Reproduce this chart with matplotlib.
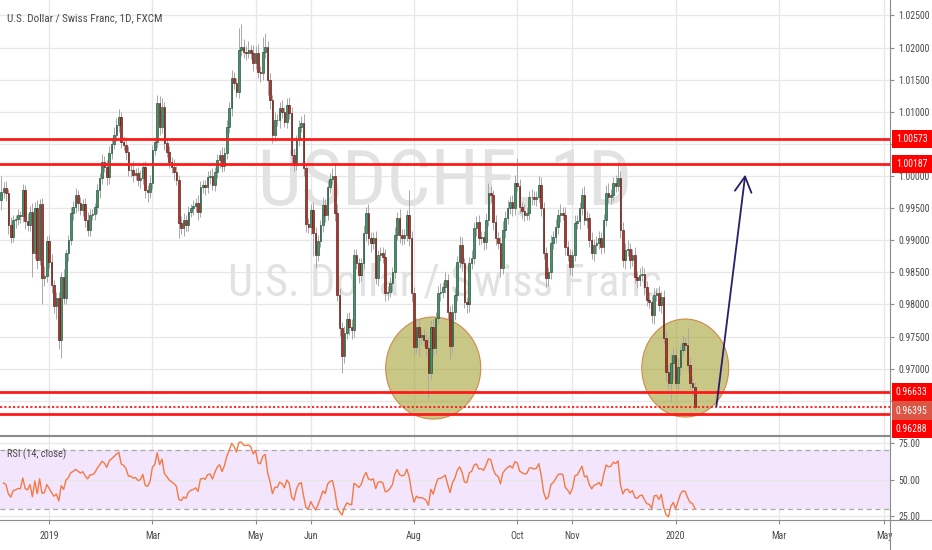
import numpy as np
import pandas as pd
import matplotlib
matplotlib.use("Agg")
import matplotlib.pyplot as plt
from matplotlib.patches import Ellipse
from matplotlib.lines import Line2D

FONT = ["Liberation Sans Narrow", "Roboto Condensed", "DejaVu Sans"]
plt.rcParams["font.family"] = FONT

# ---------------- data ----------------
title = "U.S. Dollar / Swiss Franc, 1D, FXCM"
wm_symbol = "USDCHF, 1D"
wm_name = "U.S. Dollar / Swiss Franc"
rsi_label = "RSI (14, close)"

start_date = "2018-12-04"
first_open = 0.9962

closes = [
    0.9975, 0.9982, 0.9973, 0.9924, 0.9905, 0.9931, 0.9933, 0.9939, 0.9937, 0.9978,
    0.9930, 0.9924, 0.9944, 0.9880, 0.9950, 0.9869, 0.9956, 0.9841, 0.9845, 0.9898,
    0.9866, 0.9830, 0.9797, 0.9810, 0.9745, 0.9843, 0.9810, 0.9880, 0.9900, 0.9942,
    0.9952, 0.9970, 0.9958, 0.9947, 0.9957, 0.9932, 0.9916, 0.9940, 0.9941, 0.9952,
    0.9978, 0.9997, 1.0022, 1.0014, 0.9998, 1.0036, 1.0050, 1.0064, 1.0080, 1.0092,
    1.0053, 1.0048, 1.0037, 1.0009, 1.0009, 1.0002, 1.0004, 0.9994,
    0.9997, 1.0014,
    0.9978, 0.9975, 0.9989, 1.0040, 1.0053, 1.0114, 1.0076, 1.0107, 1.0051, 1.0037,
    1.0022, 1.0014, 1.0006, 0.9994, 0.9927, 0.9919, 0.9931, 0.9924, 0.9944, 0.9950,
    0.9953, 0.9958, 0.9944, 0.9983, 0.9986, 0.9983, 0.9998, 1.0000, 0.9986, 1.0006,
    1.0025, 1.0033, 1.0016, 1.0036, 1.0076, 1.0106, 1.0153, 1.0145, 1.0131, 1.0196,
    1.0201, 1.0193, 1.0192, 1.0196, 1.0192, 1.0176, 1.0192, 1.0162, 1.0160, 1.0193,
    1.0201, 1.0150, 1.0118, 1.0064, 1.0087, 1.0087, 1.0106, 1.0100,
    1.0084, 1.0111, 1.0098, 1.0033, 1.0017, 1.0056, 1.0077, 1.0082, 1.0012, 0.9926,
    0.9921, 0.9947, 0.9911, 0.9877, 0.9898, 0.9924, 0.9955, 0.9939, 0.9983, 0.9996,
    1.0000, 0.9942, 0.9815, 0.9763, 0.9719, 0.9755, 0.9778, 0.9765, 0.9760, 0.9877,
    0.9864, 0.9846, 0.9864, 0.9911, 0.9942, 0.9903, 0.9895, 0.9903, 0.9841, 0.9877,
    0.9880, 0.9874, 0.9817, 0.9820, 0.9833, 0.9851, 0.9908, 0.9934, 0.9908, 0.9903,
    0.9908, 0.9939, 0.9903, 0.9817, 0.9734, 0.9765, 0.9750,
    0.9752, 0.9745, 0.9732, 0.9693, 0.9765, 0.9732, 0.9779, 0.9818, 0.9820, 0.9827,
    0.9838, 0.9788, 0.9735, 0.9788, 0.9815, 0.9866, 0.9893, 0.9864, 0.9804, 0.9800,
    0.9864, 0.9873, 0.9919, 0.9928, 0.9903, 0.9905, 0.9897, 0.9931, 0.9974, 0.9970,
    0.9928, 0.9903, 0.9895, 0.9857, 0.9916, 0.9935, 0.9950, 0.9960, 0.9950, 0.9989,
    0.9985, 0.9952, 0.9945, 0.9940, 0.9942, 0.9967, 0.9968, 0.9964, 0.9967, 0.9986,
    0.9950, 0.9880, 0.9841, 0.9850, 0.9896, 0.9905, 0.9921, 0.9939, 0.9942,
    0.9940, 0.9889, 0.9877, 0.9858, 0.9877, 0.9927, 0.9930, 0.9950, 0.9970, 0.9931,
    0.9935, 0.9900, 0.9880, 0.9893, 0.9896, 0.9903, 0.9890, 0.9931, 0.9974, 0.9968,
    0.9970, 0.9989, 0.9985, 0.9997, 0.9916, 0.9869, 0.9885, 0.9887, 0.9869, 0.9877,
    0.9843, 0.9838, 0.9846, 0.9848, 0.9827, 0.9807, 0.9804, 0.9783, 0.9815, 0.9817,
    0.9799, 0.9812, 0.9748, 0.9695, 0.9678, 0.9709, 0.9721, 0.9678, 0.9702, 0.9729,
    0.9740, 0.9737, 0.9706, 0.9678, 0.9671, 0.9640,
]

# wick lengths above / below the candle body, in units of 0.0001
upper_wick = [
    25, 8, 10, 6, 12, 8, 7, 9, 6, 10,   8, 12, 9, 14, 10, 12, 8, 10, 15, 9,
    10, 12, 8, 10, 9, 7, 12, 6, 8, 10,  9, 12, 8, 10, 7, 9, 12, 8, 7, 6,
    10, 8, 12, 9, 11, 10, 8, 12, 10, 13, 8, 9, 12, 10, 8, 14, 9, 10, 12, 8,
    10, 8, 12, 9, 7, 12, 10, 15, 9, 8,  10, 7, 12, 9, 8, 10, 12, 8, 9, 7,
    10, 8, 12, 9, 8, 7, 10, 9, 12, 8,   10, 8, 12, 9, 11, 10, 12, 9, 8, 35,
    36, 12, 10, 14, 8, 12, 10, 13, 9, 24, 22, 9, 10, 8, 12, 9, 10, 12, 8, 10,
    12, 9, 10, 8, 10, 12, 14, 9, 8, 10, 12, 9, 10, 8, 12, 9, 10, 8, 12, 18,
    14, 10, 9, 12, 8, 10, 12, 9, 10, 8, 9, 12, 10, 14, 9, 10, 12, 8, 9, 10,
    12, 9, 10, 8, 12, 10, 14, 9, 10, 8, 39, 12, 10, 14, 12, 9, 10, 12, 15, 10,
    12, 9, 10, 14, 8, 12, 10, 9, 12, 10, 10, 14, 12, 9, 8, 10, 12, 9, 10, 12,
    9, 10, 12, 15, 10, 8, 12, 9, 10, 14, 10, 12, 9, 10, 12, 39, 10, 8, 12, 9,
    10, 12, 9, 10, 14, 12, 9, 10, 8, 12, 10, 12, 9, 14, 10, 12, 9, 10, 8, 12,
    10, 9, 12, 14, 10, 8, 12, 9, 10, 12, 9, 10, 12, 15, 10, 9, 12, 25, 10, 12,
    10, 14, 9, 10, 12, 9, 10, 12, 8, 10, 12, 9, 10, 8, 12, 9, 10, 12, 10, 14,
    12, 10, 14, 10, 12, 10, 26, 12, 10, 8,
]
lower_wick = [
    15, 10, 12, 14, 10, 8, 12, 9, 10, 8, 12, 10, 9, 37, 10, 14, 8, 40, 12, 10,
    9, 12, 10, 20, 14, 28, 10, 9, 12, 8, 10, 9, 12, 8, 10, 12, 9, 10, 8, 10,
    9, 12, 10, 8, 12, 10, 9, 8, 10, 12, 10, 8, 12, 9, 10, 12, 8, 10, 12, 9,
    12, 15, 10, 9, 8, 10, 12, 9, 10, 8, 9, 10, 12, 8, 23, 10, 12, 9, 10, 8,
    10, 9, 12, 8, 10, 12, 9, 10, 8, 10, 9, 12, 10, 8, 10, 9, 12, 10, 8, 10,
    9, 10, 12, 8, 10, 12, 9, 10, 14, 10, 9, 24, 14, 12, 10, 9, 12, 10, 8, 10,
    9, 12, 10, 8, 10, 9, 12, 14, 10, 12, 35, 20, 10, 9, 12, 10, 8, 10, 9, 12,
    10, 12, 26, 10, 9, 12, 14, 10, 9, 12, 10, 9, 12, 10, 14, 9, 10, 12, 9, 10,
    12, 10, 9, 12, 10, 8, 12, 10, 9, 10, 12, 14, 12, 10, 30, 12, 10, 12, 39, 10,
    12, 10, 9, 12, 10, 9, 12, 22, 10, 12, 10, 9, 12, 10, 14, 12, 9, 10, 12, 10,
    9, 12, 10, 9, 10, 12, 10, 9, 14, 10, 12, 10, 9, 12, 10, 9, 10, 12, 10, 9,
    10, 12, 9, 10, 8, 12, 10, 14, 12, 10, 9, 10, 12, 10, 9, 12, 10, 12, 14, 10,
    9, 12, 10, 8, 12, 10, 9, 12, 14, 10, 12, 10, 9, 10, 12, 9, 10, 8, 12, 10,
    14, 10, 12, 9, 10, 12, 10, 9, 12, 10, 10, 12, 14, 10, 9, 12, 10, 14, 12, 30,
    25, 10, 11, 12, 10, 9, 12, 10, 14, 3,
]

level_prices = [1.00573, 1.00187, 0.96633, 0.96395, 0.96288]

month_tick_dates = ["2019-01-01", "2019-03-01", "2019-05-01", "2019-06-03", "2019-08-01",
                    "2019-10-01", "2019-11-01", "2020-01-01", "2020-03-02", "2020-05-01"]
month_tick_labels = ["2019", "Mar", "May", "Jun", "Aug", "Oct", "Nov", "2020", "Mar", "May"]

price_ticks = [0.965, 0.970, 0.975, 0.980, 0.985, 0.990, 0.995, 1.000,
               1.005, 1.010, 1.015, 1.020, 1.025]
hidden_price_labels = [0.965, 1.005]   # covered by the level boxes in the reference
rsi_ticks = [25, 50, 75]

# drawings (date, price anchors)
ellipses = [("2019-08-13", 0.97009, 39.6, 0.01589),
            ("2020-01-07", 0.97009, 36.2, 0.01526)]
arrow_from = ("2020-01-24", 0.9642)
arrow_to = ("2020-02-11", 1.0002)

# ---------------- derived ----------------
n = len(closes)
dates = pd.bdate_range(start_date, "2020-07-31")
x = np.arange(n)
c = np.array(closes)
o = np.concatenate([[first_open], c[:-1]])
top = np.maximum(o, c)
bot = np.minimum(o, c)
hi = top + np.array(upper_wick) * 1e-4
lo = bot - np.array(lower_wick) * 1e-4
up = c >= o

def didx(d):
    return int(dates.get_indexer([pd.Timestamp(d)])[0])

# RSI(14), Wilder smoothing
d = np.diff(c)
g = np.clip(d, 0, None)
l = np.clip(-d, 0, None)
ag, al = g[:14].mean(), l[:14].mean()
rsi = [np.nan]
for gi, li in zip(g, l):
    ag = (ag * 13 + gi) / 14
    al = (al * 13 + li) / 14
    rsi.append(100 - 100 / (1 + ag / al))
rsi = np.array(rsi)

# ---------------- figure ----------------
W, H = 932, 550
fig = plt.figure(figsize=(W / 100, H / 100), dpi=100, facecolor="white")
axr = 890 / W
ax = fig.add_axes([0, (H - 435) / H, axr, 435 / H])
ax2 = fig.add_axes([0, 30 / H, axr, 84 / H], sharex=ax)

XL = (-0.5, 370.3)
ax.set_xlim(*XL)
ax.set_ylim(0.95966, 1.02741)
ax2.set_ylim(22.26, 79.8)

grid_c = "#E7E7E7"
axis_c = "#8C8C8C"
text_c = "#4A4A4A"

tick_pos = [didx(t) for t in month_tick_dates]

for a in (ax, ax2):
    a.set_facecolor("white")
    for s in ("top", "left"):
        a.spines[s].set_visible(False)
    a.spines["right"].set_color(axis_c)
    a.spines["bottom"].set_color(axis_c)
    a.yaxis.tick_right()
    a.tick_params(axis="y", which="both", length=3, color=axis_c, labelsize=7,
                  labelcolor=text_c, pad=3, direction="out")
    for tp in tick_pos:
        a.axvline(tp, color=grid_c, lw=0.9, zorder=0)

ax2.spines["top"].set_visible(True)
ax2.spines["top"].set_color(axis_c)

# price grid & ticks
ax.set_yticks(price_ticks)
ax.set_yticklabels(["" if v in hidden_price_labels else f"{v:.5f}" for v in price_ticks])
for v in price_ticks:
    ax.axhline(v, color=grid_c, lw=0.9, zorder=0)
ax.tick_params(axis="x", which="both", bottom=False, labelbottom=False)

# watermark
ax.text(0.5, 1 - 205 / 435, wm_symbol, transform=ax.transAxes, ha="center", va="baseline",
        fontsize=56, color="#E2E2E2", zorder=0.5)
ax.text(0.5, 1 - 295 / 435, wm_name, transform=ax.transAxes, ha="center", va="baseline",
        fontsize=32, color="#E2E2E2", zorder=0.5)

# ellipses (below candles)
for dte, py, wbars, hp in ellipses:
    e = Ellipse((didx(dte), py), wbars, hp, facecolor="#A9A53C", alpha=0.62,
                edgecolor="none", zorder=1)
    ax.add_patch(e)
    e2 = Ellipse((didx(dte), py), wbars, hp, facecolor="none",
                 edgecolor="#D08A4A", lw=0.8, zorder=1.1)
    ax.add_patch(e2)

# candles
ax.vlines(x, lo, hi, color="#A8A8A8", lw=0.7, zorder=2)
body_h = np.maximum(top - bot, 0.00008)
ax.bar(x[up], body_h[up], bottom=bot[up], width=0.66, color="#44916A",
       edgecolor="#1F4D33", linewidth=0.45, zorder=3)
ax.bar(x[~up], body_h[~up], bottom=bot[~up], width=0.66, color="#B3342B",
       edgecolor="#561811", linewidth=0.45, zorder=3)

# horizontal levels
level_style = ["-", "-", "-", (0, (1.2, 1.2)), "-"]
level_lw = [2.0, 2.0, 2.0, 1.3, 2.0]
level_box = ["#FF0000", "#FF0000", "#FF0000", "#DC5646", "#FF0000"]
level_off = [0, 0, 0, -2.2, -10.8]
for v, ls, lw, bc, off in zip(level_prices, level_style, level_lw, level_box, level_off):
    ax.axhline(v, color="#FF1A1A", ls=ls, lw=lw, zorder=4)
    ax.annotate(f"{v:.5f}", xy=(1, v), xycoords=("axes fraction", "data"),
                xytext=(4.3, off), textcoords="offset points", ha="left", va="center",
                color="white", fontsize=7, annotation_clip=False, zorder=20,
                bbox=dict(boxstyle="square,pad=0.42", fc=bc, ec="none"))

# arrow
ax.annotate("", xy=(didx(arrow_to[0]), arrow_to[1]),
            xytext=(didx(arrow_from[0]), arrow_from[1]),
            arrowprops=dict(arrowstyle="->,head_length=0.55,head_width=0.3",
                            color="#2B1B6B", lw=1.3, mutation_scale=20,
                            shrinkA=0, shrinkB=0), zorder=6)

# title
ax.text(7 / 890, 1 - 18 / 435, title, transform=ax.transAxes, ha="left", va="center",
        fontsize=8, color=text_c, zorder=10)

# RSI pane
ax2.axhspan(30, 70, color="#F2E5FC", zorder=0.2, lw=0)
for v in rsi_ticks:
    ax2.axhline(v, color=grid_c, lw=0.9, zorder=0.3)
for v in (30, 70):
    ax2.axhline(v, color="#A8A8A8", lw=0.9, ls=(0, (4, 3)), zorder=0.4)
ax2.plot(x, rsi, color="#F47A45", lw=1.0, zorder=3)
ax2.set_yticks(rsi_ticks)
ax2.set_yticklabels([f"{v:.2f}" for v in rsi_ticks])
ax2.text(7 / 890, 1 - 18 / 84, rsi_label, transform=ax2.transAxes, ha="left",
         va="center", fontsize=7.5, color=text_c, zorder=10)

ax2.set_xticks(tick_pos)
ax2.set_xticklabels(month_tick_labels)
ax2.tick_params(axis="x", length=3, color=axis_c, labelsize=7.2, labelcolor=text_c, pad=5)
ax2.set_xlim(*XL)

# extended axis frame lines
fig.add_artist(Line2D([axr, axr], [0, 30 / H], color=axis_c, lw=0.8))
fig.add_artist(Line2D([axr, 1], [30 / H, 30 / H], color=axis_c, lw=0.8))

fig.savefig("out.png", dpi=100, facecolor="white")
